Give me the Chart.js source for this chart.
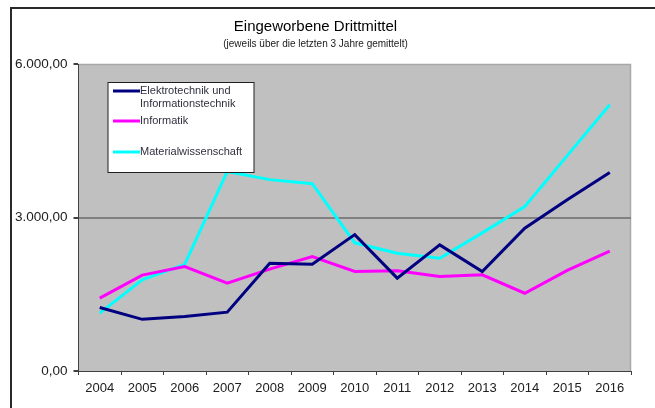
<!DOCTYPE html>
<html>
<head>
<meta charset="utf-8">
<script src="https://cdn.jsdelivr.net/npm/chart.js@4.4.0/dist/chart.umd.min.js"></script>
<style>
  html, body { margin: 0; padding: 0; background: #ffffff; }
  #wrap { width: 655px; height: 408px; position: relative; }
</style>
</head>
<body>
<div id="wrap"><canvas id="c" width="655" height="408"></canvas></div>
<script>
const years = ['2004','2005','2006','2007','2008','2009','2010','2011','2012','2013','2014','2015','2016'];
const elektrotechnik = [1240, 1010, 1065, 1150, 2105, 2085, 2665, 1815, 2465, 1945, 2790, 3345, 3880];
const informatik = [1425, 1875, 2040, 1715, 1990, 2235, 1945, 1960, 1845, 1880, 1520, 1965, 2345];
const materialwissenschaft = [1130, 1780, 2085, 3900, 3740, 3660, 2505, 2300, 2205, 2700, 3215, 4210, 5205];
const yTicks = [0, 3000, 6000];
const seriesNames = [['Elektrotechnik und', 'Informationstechnik'], ['Informatik'], ['Materialwissenschaft']];
const seriesColors = ['#000080', '#ff00ff', '#00ffff'];
const titleText = 'Eingeworbene Drittmittel';
const subtitleText = '(jeweils über die letzten 3 Jahre gemittelt)';

const FONT = '"Liberation Sans", Arial, sans-serif';

function fmtDE(v) {
  const parts = Math.abs(v).toFixed(2).split('.');
  parts[0] = parts[0].replace(/\B(?=(\d{3})+(?!\d))/g, '.');
  return (v < 0 ? '-' : '') + parts[0] + ',' + parts[1];
}

const framePlugin = {
  id: 'frame',
  beforeDraw(chart) {
    const ctx = chart.ctx;
    const a = chart.chartArea;
    ctx.save();
    ctx.strokeStyle = '#2a2a2a';
    ctx.lineWidth = 2;
    ctx.beginPath();
    ctx.moveTo(11, 408);
    ctx.lineTo(11, 8);
    ctx.lineTo(655, 8);
    ctx.stroke();
    ctx.fillStyle = '#c0c0c0';
    ctx.fillRect(a.left, a.top, a.right - a.left, a.bottom - a.top);
    ctx.strokeStyle = '#a8a8a8';
    ctx.lineWidth = 1.5;
    ctx.beginPath();
    ctx.moveTo(a.left, a.top + 0.5);
    ctx.lineTo(a.right - 0.5, a.top + 0.5);
    ctx.lineTo(a.right - 0.5, a.bottom);
    ctx.stroke();
    ctx.restore();
  }
};

const boxLegendPlugin = {
  id: 'boxLegend',
  afterDatasetsDraw(chart) {
    const ctx = chart.ctx;
    const a = chart.chartArea;
    const x0 = a.left + 29.5, y0 = a.top + 18.5, w = 146, h = 90;
    ctx.save();
    ctx.fillStyle = '#ffffff';
    ctx.fillRect(x0, y0, w, h);
    ctx.strokeStyle = '#202020';
    ctx.lineWidth = 1;
    ctx.strokeRect(x0, y0, w, h);
    const rows = [8.5, 38.5, 69.5];
    ctx.font = '11px ' + FONT;
    ctx.textBaseline = 'middle';
    ctx.textAlign = 'left';
    chart.data.datasets.forEach((ds, i) => {
      const yy = y0 + rows[i];
      ctx.strokeStyle = ds.borderColor;
      ctx.lineWidth = 3;
      ctx.beginPath();
      ctx.moveTo(x0 + 5, yy);
      ctx.lineTo(x0 + 32, yy);
      ctx.stroke();
      ctx.fillStyle = '#303040';
      const lines = Array.isArray(ds.label) ? ds.label : [ds.label];
      lines.forEach((t, k) => ctx.fillText(t, x0 + 32, yy + k * 13));
    });
    ctx.restore();
  }
};

const datasets = [elektrotechnik, informatik, materialwissenschaft].map((vals, i) => ({
  label: seriesNames[i],
  data: vals,
  borderColor: seriesColors[i],
  backgroundColor: seriesColors[i],
  borderWidth: 3,
  pointRadius: 0,
  pointHoverRadius: 0,
  tension: 0,
  fill: false
}));

new Chart(document.getElementById('c'), {
  type: 'line',
  data: { labels: years, datasets: datasets },
  plugins: [framePlugin, boxLegendPlugin],
  options: {
    responsive: false,
    animation: false,
    devicePixelRatio: 1,
    layout: { padding: { left: 0, right: 24, top: 0, bottom: 7 } },
    plugins: {
      legend: { display: false },
      tooltip: { enabled: false },
      title: {
        display: true,
        text: titleText,
        color: '#000000',
        font: { family: FONT, size: 15, weight: 'normal', lineHeight: 1.2 },
        padding: { top: 18, bottom: 2 }
      },
      subtitle: {
        display: true,
        text: subtitleText,
        color: '#202020',
        font: { family: FONT, size: 10, weight: 'normal', lineHeight: 1.2 },
        padding: { top: 0, bottom: 14 }
      }
    },
    scales: {
      x: {
        type: 'category',
        offset: true,
        afterFit(s) { s.height = 30; },
        grid: {
          offset: true,
          drawOnChartArea: false,
          drawTicks: true,
          tickLength: 4,
          tickColor: '#404040',
          color: '#404040'
        },
        border: { display: true, color: '#404040', width: 1 },
        ticks: {
          color: '#202020',
          font: { family: FONT, size: 13 },
          padding: 6,
          maxRotation: 0,
          autoSkip: false
        }
      },
      y: {
        min: 0,
        max: 6000,
        afterFit(s) { s.width = 78.5; },
        afterBuildTicks(s) { s.ticks = yTicks.map(v => ({ value: v })); },
        grid: {
          drawOnChartArea: true,
          drawTicks: true,
          tickLength: 5,
          tickColor: '#404040',
          lineWidth: 2,
          color: (c) => (c.tick && c.tick.value === 3000) ? '#808080' : 'rgba(0,0,0,0)'
        },
        border: { display: true, color: '#404040', width: 1 },
        ticks: {
          color: '#202020',
          font: { family: FONT, size: 13.5 },
          padding: 6,
          callback: (v) => fmtDE(v)
        }
      }
    }
  }
});
</script>
</body>
</html>
